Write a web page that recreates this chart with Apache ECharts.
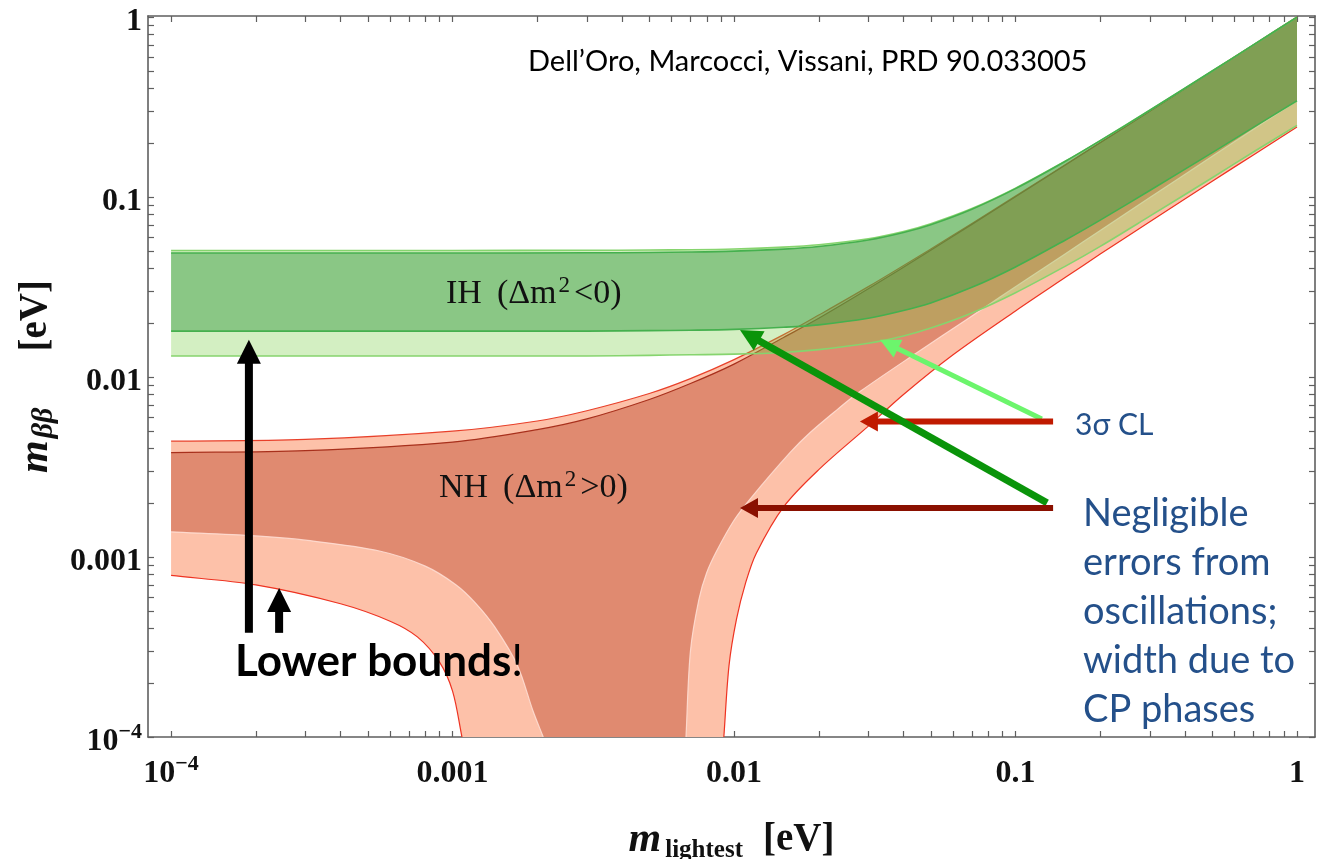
<!DOCTYPE html>
<html><head><meta charset="utf-8">
<script src="https://cdn.jsdelivr.net/npm/echarts@6/dist/echarts.min.js"></script>
<style>html,body{margin:0;padding:0;background:#fff}#c{width:1322px;height:859px}</style>
</head><body><div id="c"></div>
<script>
// ---------------- data (values in eV) ----------------
// Inverted hierarchy band
const ihM    = [1e-4, 3e-4, 1e-3, 3e-3, 5e-3, 7e-3, 0.01, 0.015, 0.02, 0.03, 0.04, 0.05, 0.07, 0.1, 0.15, 0.2, 0.3, 0.5, 0.7, 1];
const ihUp3  = [0.0505,0.0505,0.0505,0.0506,0.0508,0.051,0.0515,0.0527,0.0543,0.0587,0.0644,0.0711,0.0863,0.112,0.158,0.206,0.304,0.502,0.701,1.0];
const ihUp   = [0.0489,0.0489,0.0489,0.049,0.0492,0.0495,0.0501,0.0514,0.0531,0.0577,0.0635,0.0702,0.0856,0.1114,0.1577,0.2057,0.3036,0.5017,0.7006,0.9996];
const ihLow  = [0.018,0.018,0.018,0.018,0.0181,0.0182,0.0184,0.0189,0.0195,0.0212,0.0234,0.0258,0.0315,0.0409,0.0576,0.0745,0.1087,0.1766,0.2438,0.343];
const ihLow3 = [0.0131,0.0131,0.0131,0.0131,0.0132,0.0133,0.0134,0.0137,0.0142,0.0154,0.0169,0.0187,0.0227,0.0294,0.0412,0.0532,0.0783,0.128,0.178,0.25];
// Normal hierarchy band: upper edges
const nhM    = [1e-4, 3e-4, 1e-3, 2e-3, 3e-3, 5e-3, 7e-3, 0.01, 0.015, 0.02, 0.03, 0.05, 0.07, 0.1, 0.2, 0.3, 0.5, 0.7, 1];
const nhUp3  = [0.0044,0.0045,0.005,0.0057,0.0065,0.0081,0.0098,0.0125,0.0172,0.0221,0.0318,0.0515,0.0713,0.1012,0.2008,0.3005,0.5003,0.7002,1.0];
const nhUp   = [0.0038,0.0039,0.00435,0.0051,0.00585,0.0075,0.0092,0.0118,0.0166,0.0212,0.0309,0.0506,0.0705,0.1004,0.2002,0.3001,0.5,0.7,1.0];
// Normal hierarchy: lower edges (left and right of the cancellation region)
const nhLow3LM = [1e-4, 2e-4, 4e-4, 6e-4, 7.5e-4, 9e-4, 1e-3, 1.08e-3];
const nhLow3L  = [0.00079,0.0007,0.00055,0.00044,0.00036,0.00026,0.00018,0.0001];
const nhLow3RM = [0.0092,0.0096,0.0102,0.011,0.012,0.015,0.02,0.03,0.04,0.06,0.1,0.15,0.2,0.3,0.5,0.7,1];
const nhLow3R  = [0.0001,0.00025,0.00045,0.00072,0.00105,0.0019,0.00306,0.00534,0.008,0.0133,0.0233,0.0357,0.0482,0.0729,0.1225,0.1715,0.245];
const nhLowLM  = [1e-4,2e-4,3e-4,5.5e-4,8e-4,1.03e-3,1.2e-3,1.41e-3,1.7e-3,1.93e-3,2.1e-3];
const nhLowL   = [0.00138,0.00131,0.00124,0.00108,0.00089,0.0007,0.00056,0.00041,0.00025,0.00014,0.0001];
const nhLowRM  = [0.00675,0.007,0.0075,0.008,0.0087,0.01,0.0114,0.0158,0.0186,0.0232,0.028,0.0446,0.0671,0.0881,0.15,0.2,0.3,0.5,0.7,1];
const nhLowR   = [0.0001,0.0003,0.00058,0.00082,0.00109,0.0016,0.0021,0.0038,0.0049,0.00657,0.0083,0.01365,0.0209,0.0278,0.0483,0.0652,0.0993,0.1685,0.238,0.343];
// annotation arrows: tail and tip (m_lightest, m_bb) in eV
const arrowFrom = [[1.89e-4,3.79e-4],[2.42e-4,3.79e-4],[0.124,0.00584],[0.136,0.00566],[0.1295,0.0020],[0.136,0.00187]];
const arrowTo   = [[1.89e-4,0.0161],[2.42e-4,6.73e-4],[0.033,0.0161],[0.028,0.00566],[0.0105,0.01824],[0.0105,0.00187]];
// axis ticks / labels (decades)
const decades = [1e-4, 1e-3, 1e-2, 1e-1, 1];
const tickLabels = ['{b|10}{s|−4}', '0.001', '0.01', '0.1', '1'];

// ---------------- styles ----------------
const arrowColor = ['#000000','#000000','#6cf56c','#c01a00','#0a940a','#8a1000'];
const arrowWidth = [8, 8, 5, 6, 7, 6];
const arrowHead  = [[24,12],[24,12],[20,10],[18,10],[22,11],[18,10]];

const L = v => Math.log10(v);
const toPts = (ms, vs) => ms.map((m, i) => [L(m), L(vs[i])]);
const minorTicks = [];
for (let d = -4; d <= -1; d++) for (let k = 1; k <= 9; k++) minorTicks.push(d + Math.log10(k));
minorTicks.push(0);
const labelVals = decades.map(L);

// smooth bezier through pixel points (drawing only)
function bez(p) {
  let d = '';
  const s = 0.33;
  const dir = (a, b) => { const dx = b[0]-a[0], dy = b[1]-a[1], l = Math.hypot(dx, dy) || 1; return [dx/l, dy/l]; };
  for (let i = 0; i < p.length - 1; i++) {
    const p0 = p[i-1] || p[i], p1 = p[i], p2 = p[i+1], p3 = p[i+2] || p[i+1];
    const len = Math.hypot(p2[0]-p1[0], p2[1]-p1[1]);
    const t1 = dir(p0, p2), t2 = dir(p1, p3);
    const c1 = [p1[0] + t1[0]*len*s, p1[1] + t1[1]*len*s];
    const c2 = [p2[0] - t2[0]*len*s, p2[1] - t2[1]*len*s];
    d += ' C' + c1[0].toFixed(2) + ',' + c1[1].toFixed(2) + ' ' + c2[0].toFixed(2) + ',' + c2[1].toFixed(2) + ' ' + p2[0].toFixed(2) + ',' + p2[1].toFixed(2);
  }
  return d;
}
function pix(api, pts) { return pts.map(q => api.coord(q)); }
function openPath(api, pts) { const p = pix(api, pts); return 'M' + p[0][0] + ',' + p[0][1] + bez(p); }
function regionPath(api, upper, lowers) {
  const u = pix(api, upper);
  let d = 'M' + u[0][0] + ',' + u[0][1] + bez(u);
  lowers.forEach(seg => { const p = pix(api, seg.slice().reverse()); d += ' L' + p[0][0] + ',' + p[0][1] + bez(p); });
  return d + ' Z';
}

// region geometry in log space
const IH3 = { up: toPts(ihM, ihUp3), lows: [toPts(ihM, ihLow3)] };
const IH1 = { up: toPts(ihM, ihUp),  lows: [toPts(ihM, ihLow)] };
const NH3 = { up: toPts(nhM, nhUp3), lows: [toPts(nhLow3RM, nhLow3R), toPts(nhLow3LM, nhLow3L)] };
const NH1 = { up: toPts(nhM, nhUp),  lows: [toPts(nhLowRM, nhLowR), toPts(nhLowLM, nhLowL)] };

function regionSeries(reg, fill) {
  return { type: 'custom', coordinateSystem: 'cartesian2d', clip: true, silent: true,
    data: reg.up, renderItem: (params, api) => params.dataIndex !== 0 ? null :
      { type: 'path', shape: { pathData: regionPath(api, reg.up, reg.lows) }, style: { fill: fill, stroke: null } } };
}
function lineSeries(curves, color, width) {
  return { type: 'custom', coordinateSystem: 'cartesian2d', clip: true, silent: true,
    data: curves[0], renderItem: (params, api) => params.dataIndex !== 0 ? null :
      { type: 'group', children: curves.map(c => ({ type: 'path', shape: { pathData: openPath(api, c) },
        style: { fill: null, stroke: color, lineWidth: width } })) } };
}

const serif = 'Liberation Serif';
const labelRich = { b: { fontSize: 32, fontWeight: 'bold', fontFamily: serif, lineHeight: 42 },
                    s: { fontSize: 22, fontWeight: 'bold', fontFamily: serif, verticalAlign: 'top', lineHeight: 22 } };
const fmt = v => { const i = labelVals.findIndex(x => Math.abs(x - v) < 1e-6); return i < 0 ? '' : tickLabels[i]; };
const axisLineStyle = { color: '#5f5f5f', width: 1.6 };

function xAx(pos, show) {
  return { type: 'value', position: pos, min: -4.082, max: 0.064, splitLine: { show: false },
    axisLine: { show: true, onZero: false, lineStyle: axisLineStyle },
    axisTick: { show: true, inside: true, length: 6, customValues: minorTicks, lineStyle: { color: '#5f5f5f', width: 1.2 } },
    axisLabel: { show: show, customValues: labelVals, formatter: fmt, margin: 16, color: '#111',
      fontFamily: serif, fontWeight: 'bold', fontSize: 32, lineHeight: 42, rich: labelRich },
    name: show ? '{m|m}{s|lightest}{u|[eV]}' : '', nameLocation: 'middle', nameGap: 80,
    nameTextStyle: { color: '#111', rich: {
      m: { fontFamily: serif, fontStyle: 'italic', fontWeight: 'bold', fontSize: 42, lineHeight: 46, padding: [0, 4, 0, 0] },
      s: { fontFamily: serif, fontWeight: 'bold', fontSize: 25, verticalAlign: 'bottom', lineHeight: 30, padding: [0, 20, 0, 0] },
      u: { fontFamily: serif, fontWeight: 'bold', fontSize: 39, lineHeight: 46 } } } };
}
function yAx(pos, show) {
  return { type: 'value', position: pos, min: -4, max: 0.006, splitLine: { show: false },
    axisLine: { show: true, onZero: false, lineStyle: axisLineStyle },
    axisTick: { show: true, inside: true, length: 6, customValues: minorTicks, lineStyle: { color: '#5f5f5f', width: 1.2 } },
    axisLabel: { show: show, customValues: labelVals, formatter: fmt, margin: 6, color: '#111', padding: [10, 0, 0, 0],
      fontFamily: serif, fontWeight: 'bold', fontSize: 32, lineHeight: 42, rich: labelRich },
    name: show ? '{m|m}{s|ββ}{u|[eV]}' : '', nameLocation: 'middle', nameRotate: 90, nameGap: 86,
    nameTextStyle: { color: '#111', rich: {
      m: { fontFamily: serif, fontStyle: 'italic', fontWeight: 'bold', fontSize: 42, lineHeight: 46 },
      s: { fontFamily: serif, fontStyle: 'italic', fontWeight: 'bold', fontSize: 30, verticalAlign: 'bottom', lineHeight: 34, padding: [0, 56, 0, 2] },
      u: { fontFamily: serif, fontWeight: 'bold', fontSize: 39, lineHeight: 46 } } } };
}

const chart = echarts.init(document.getElementById('c'), null, { renderer: 'canvas' });
const blue = '#24508a';
const hRich = { t: { fontFamily: serif, fontSize: 34, lineHeight: 40 }, g: { fontFamily: serif, fontSize: 34, lineHeight: 40, width: 15 },
                s: { fontFamily: serif, fontSize: 23, verticalAlign: 'top', lineHeight: 24, padding: [0, 4, 0, 2] } };
chart.setOption({
  animation: false,
  backgroundColor: '#ffffff',
  grid: { left: 148, right: 7, top: 16, bottom: 122, containLabel: false, outerBoundsMode: 'none' },
  xAxis: [xAx('bottom', true), xAx('top', false)],
  yAxis: [yAx('left', true), yAx('right', false)],
  series: [
    regionSeries(NH3, '#fdc1a9'),
    regionSeries(NH1, '#e08a70'),
    lineSeries(NH1.lows, 'rgba(255,225,215,0.85)', 1.2),
    lineSeries(NH3.lows, '#ee3322', 1.2),
    lineSeries([NH3.up], '#e8402a', 1.2),
    lineSeries([NH1.up], '#a8301c', 1.2),
    regionSeries(IH3, 'rgba(118,205,64,0.32)'),
    regionSeries(IH1, 'rgba(66,160,72,0.5)'),
    lineSeries([IH3.up, IH3.lows[0]], '#86d46e', 1.6),
    lineSeries([IH1.up, IH1.lows[0]], '#45b04e', 1.6),
    { type: 'custom', coordinateSystem: 'cartesian2d', silent: true, z: 5,
      data: arrowFrom.map((a, i) => [L(a[0]), L(a[1]), L(arrowTo[i][0]), L(arrowTo[i][1])]),
      renderItem: (params, api) => {
        const i = params.dataIndex;
        const a = api.coord([api.value(0), api.value(1)]);
        const b = api.coord([api.value(2), api.value(3)]);
        const hl = arrowHead[i][0], hw = arrowHead[i][1];
        const dx = b[0]-a[0], dy = b[1]-a[1], len = Math.hypot(dx, dy), ux = dx/len, uy = dy/len;
        const bs = [b[0]-ux*hl, b[1]-uy*hl];
        return { type: 'group', children: [
          { type: 'line', shape: { x1: a[0], y1: a[1], x2: bs[0]+ux, y2: bs[1]+uy }, style: { stroke: arrowColor[i], lineWidth: arrowWidth[i] } },
          { type: 'polygon', shape: { points: [b, [bs[0]-uy*hw, bs[1]+ux*hw], [bs[0]+uy*hw, bs[1]-ux*hw]] }, style: { fill: arrowColor[i] } }
        ] };
      } }
  ],
  graphic: [
    { type: 'text', z: 100, left: 528, top: 47, style: { text: 'Dell’Oro, Marcocci, Vissani, PRD 90.033005', font: '29px Lato', fill: '#000' } },
    { type: 'text', z: 100, left: 446, top: 274, style: { text: '{t|IH}{g| }{t|(Δm}{s|2}{t|<0)}', fill: '#111', rich: hRich } },
    { type: 'text', z: 100, left: 439, top: 468, style: { text: '{t|NH}{g| }{t|(Δm}{s|2}{t|>0)}', fill: '#111', rich: hRich } },
    { type: 'text', z: 100, left: 1075, top: 410, style: { text: '3σ CL', font: '30px Lato', fill: blue } },
    { type: 'text', z: 100, left: 1083, top: 489, style: { text: 'Negligible\nerrors from\noscillations;\nwidth due to\nCP phases', font: '38px Lato', lineHeight: 49, fill: blue } },
    { type: 'text', z: 100, left: 235, top: 640, style: { text: '{b|Lower bounds}{r|!}', fill: '#000',
        rich: { b: { fontFamily: 'Lato', fontWeight: 'bold', fontSize: 44 }, r: { fontFamily: 'Lato', fontSize: 44 } } } }
  ]
});
</script></body></html>
